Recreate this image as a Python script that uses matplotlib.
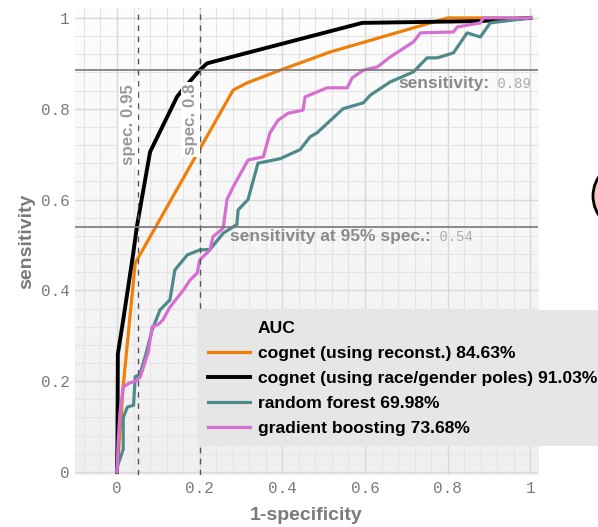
import numpy as np
import matplotlib
matplotlib.use('Agg')
import matplotlib.pyplot as plt
from matplotlib.patches import Circle
from matplotlib.lines import Line2D

# ROC curves (x = 1-specificity, y = sensitivity)
cog_rec_x = [0, 0.008, 0.015, 0.044, 0.281, 0.315, 0.395, 0.516, 0.8, 1.0]
cog_rec_y = [0, 0.10, 0.19, 0.46, 0.841, 0.857, 0.885, 0.925, 1.0, 1.0]

cog_pol_x = [0, 0.001, 0.002, 0.015, 0.039, 0.048, 0.08, 0.145, 0.157, 0.2, 0.218, 0.593, 0.88, 1.0]
cog_pol_y = [0, 0.07, 0.26, 0.335, 0.48, 0.54, 0.705, 0.826, 0.84, 0.885, 0.9, 0.989, 0.993, 1.0]

rf_x = [0, 0.0, 0.015, 0.015, 0.025, 0.04, 0.044, 0.055, 0.07, 0.085, 0.104, 0.128, 0.14, 0.17,
        0.2, 0.225, 0.257, 0.29, 0.293, 0.317, 0.341, 0.395, 0.443, 0.467, 0.484, 0.547, 0.596,
        0.613, 0.661, 0.717, 0.75, 0.775, 0.814, 0.847, 0.879, 0.903, 1.0]
rf_y = [0, 0.01, 0.05, 0.12, 0.143, 0.147, 0.21, 0.214, 0.26, 0.313, 0.357, 0.379, 0.445, 0.478,
        0.489, 0.49, 0.526, 0.545, 0.577, 0.6, 0.68, 0.69, 0.71, 0.738, 0.747, 0.80, 0.813,
        0.83, 0.859, 0.881, 0.912, 0.912, 0.923, 0.967, 0.958, 0.989, 1.0]

gb_x = [0, 0.003, 0.007, 0.015, 0.03, 0.045, 0.056, 0.075, 0.085, 0.1, 0.111, 0.128, 0.16, 0.177,
        0.194, 0.2, 0.225, 0.232, 0.257, 0.266, 0.281, 0.317, 0.354, 0.37, 0.39, 0.414, 0.45,
        0.455, 0.508, 0.557, 0.569, 0.596, 0.63, 0.661, 0.717, 0.734, 0.814, 0.823, 0.879,
        0.886, 1.0]
gb_y = [0, 0.07, 0.13, 0.187, 0.196, 0.2, 0.209, 0.262, 0.32, 0.325, 0.335, 0.363, 0.40, 0.423,
        0.438, 0.467, 0.489, 0.518, 0.537, 0.6, 0.628, 0.687, 0.694, 0.747, 0.775, 0.79, 0.797,
        0.826, 0.846, 0.846, 0.868, 0.885, 0.892, 0.914, 0.947, 0.967, 0.969, 0.98, 0.989,
        1.0, 1.0]

labels = ['cognet (using reconst.) 84.63%',
          'cognet (using race/gender poles) 91.03%',
          'random forest 69.98%',
          'gradient boosting 73.68%']
colors = ['#f07f09', '#000000', '#4f8a8b', '#d66fd2']

spec_x = [0.05, 0.2]
spec_labels = ['spec. 0.95', 'spec. 0.8']
sens_at_95 = 0.54
sens_at_08 = 0.885

ticks = [0, 0.2, 0.4, 0.6, 0.8, 1]
tick_labels = ['0', '0.2', '0.4', '0.6', '0.8', '1']

sans = ['Liberation Sans', 'DejaVu Sans']
mono = ['Liberation Mono', 'DejaVu Sans Mono']

fig = plt.figure(figsize=(5.98, 5.27), dpi=100)
ax = fig.add_axes([0.1254, 0.0987, 0.7746, 0.8863])
ax.set_xlim(-0.1017, 1.019)
ax.set_ylim(-0.0066, 1.022)

# background gradient, white on top, light grey below
grad = np.linspace(0, 1, 256).reshape(-1, 1)
ax.imshow(grad, extent=[0, 1, 0, 1], transform=ax.transAxes, aspect='auto',
          cmap=matplotlib.colors.LinearSegmentedColormap.from_list('bg', ['#fdfdfd', '#efefef']),
          zorder=0)

ax.set_xticks(ticks)
ax.set_xticklabels(tick_labels)
ax.set_yticks(ticks)
ax.set_yticklabels(tick_labels)
ax.set_xticks(np.arange(-0.08, 1.02, 0.04), minor=True)
ax.set_yticks(np.arange(0, 1.02, 0.04), minor=True)
ax.grid(True, which='major', color='#d8d8d8', lw=1.0, zorder=1)
ax.grid(True, which='minor', color='#e4e4e4', lw=0.8, zorder=1)
ax.tick_params(which='both', length=0)
ax.tick_params(axis='x', pad=4)
ax.tick_params(axis='y', pad=4)
for lab in ax.get_xticklabels() + ax.get_yticklabels():
    lab.set_fontfamily(mono)
    lab.set_fontsize(11.5)
    lab.set_color('#7a7a7a')
for s in ax.spines.values():
    s.set_visible(False)

ax.set_xlabel('1-specificity', family=sans, fontsize=14, fontweight='bold', color='#7a7a7a', labelpad=8)
ax.set_ylabel('sensitivity', family=sans, fontsize=14, fontweight='bold', color='#7a7a7a', labelpad=4)

lines = []
lines += ax.plot(cog_rec_x, cog_rec_y, color=colors[0], lw=2.3, zorder=3)
lines += ax.plot(cog_pol_x, cog_pol_y, color=colors[1], lw=2.8, zorder=3)
lines += ax.plot(rf_x, rf_y, color=colors[2], lw=2.3, zorder=3)
lines += ax.plot(gb_x, gb_y, color=colors[3], lw=2.3, zorder=3)

# reference lines
for xv in spec_x:
    ax.axvline(xv, color='#555555', lw=1.0, ls=(0, (4, 4)), zorder=4)
ax.axhline(sens_at_08, color='#777777', lw=1.2, zorder=4)
ax.axhline(sens_at_95, color='#777777', lw=1.2, zorder=4)

for xv, txt in zip(spec_x, spec_labels):
    ax.text(xv - 0.004, 0.855, txt, rotation=90, ha='right', va='top', family=sans,
            fontsize=12.2, fontweight='bold', color='#9a9a9a', zorder=5,
            bbox=dict(boxstyle='square,pad=0.1', fc='white', ec='none'))

t1 = ax.text(0.68, 0.855, 'sensitivity:', ha='left', va='center', family=sans,
             fontsize=12.5, fontweight='bold', color='#8a8a8a', zorder=5)
ax.annotate(' 0.89', xy=(1, 0.5), xycoords=t1, ha='left', va='center', family=mono,
            fontsize=10, color='#aaaaaa', zorder=5)
t2 = ax.text(0.274, 0.518, 'sensitivity at 95% spec.:', ha='left', va='center', family=sans,
             fontsize=12.5, fontweight='bold', color='#8a8a8a', zorder=5)
ax.annotate(' ' + '0.54', xy=(1, 0.5), xycoords=t2, ha='left', va='center', family=mono,
            fontsize=10, color='#aaaaaa', zorder=5)

# "AUC" heading as an entry without a handle, so it lines up with the labels
blank = Line2D([], [], color='none')
leg = ax.legend([blank] + lines, ['AUC'] + labels,
                loc='upper left', bbox_to_anchor=(0.194, 0.357), bbox_transform=ax.transData,
                borderaxespad=0, frameon=True, prop=dict(family=sans, weight='bold', size=12.6),
                handlelength=2.4, handletextpad=0.45, labelspacing=0.56, borderpad=0.6,
                fancybox=True)
leg.get_frame().set_facecolor('#e6e6e6')
leg.get_frame().set_edgecolor('none')
leg.get_frame().set_alpha(1)
leg.set_zorder(6)

# leftover piece of the next panel at the right edge
fig.patches.append(Circle((628, 527 - 196), 35, transform=None, fc='#f6c4c4', ec='black', lw=2))

fig.savefig('out.png', dpi=100)
